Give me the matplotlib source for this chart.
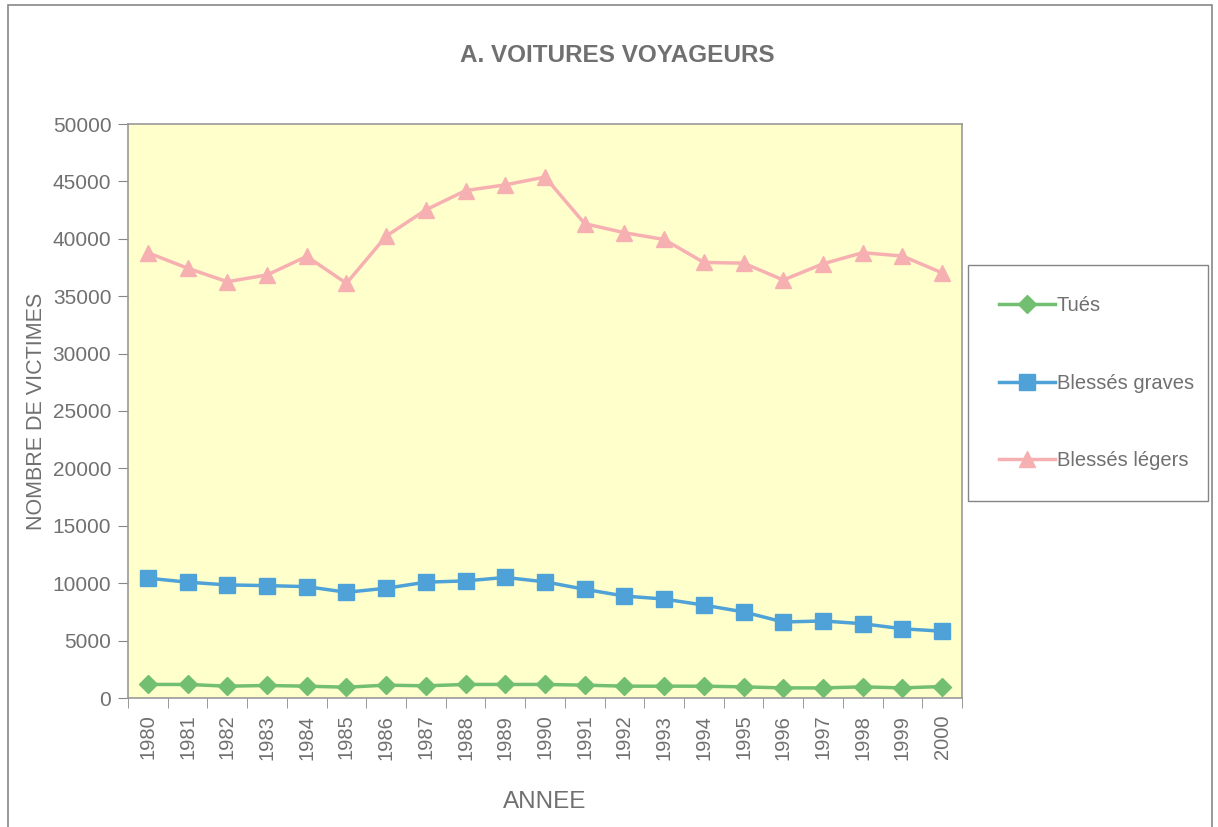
import numpy as np
import matplotlib.pyplot as plt
from matplotlib.patches import Rectangle

# --- donnees ---
annees = [str(a) for a in range(1980, 2001)]

tues = [1180, 1180, 1030, 1090, 1030, 940, 1120, 1060, 1180, 1180, 1180,
        1120, 1030, 1030, 1030, 970, 880, 880, 970, 880, 1000]

blesses_graves = [10440, 10090, 9850, 9790, 9700, 9210, 9560, 10090, 10200, 10500,
                  10120, 9470, 8880, 8620, 8090, 7500, 6620, 6710, 6470, 6030, 5820]

blesses_legers = [38790, 37440, 36260, 36850, 38470, 36120, 40230, 42520, 44200, 44700,
                  45380, 41320, 40530, 39940, 37940, 37880, 36410, 37820, 38790, 38500, 37030]

gris = '#707070'
plt.rcParams['font.family'] = ['Liberation Sans', 'DejaVu Sans']

W, H = 1218, 827
fig = plt.figure(figsize=(W / 100, H / 100), dpi=100)
ax = fig.add_axes([128 / W, 1 - 698 / H, (962 - 128) / W, (698 - 124) / H])
ax.set_facecolor('#ffffcc')

x = np.arange(len(annees))
ax.plot(x, tues, '-D', color='#72bf72', markersize=9, linewidth=2.5, label='Tués')
ax.plot(x, blesses_graves, '-s', color='#4ea2d8', markersize=11, linewidth=2.5,
        label='Blessés graves')
ax.plot(x, blesses_legers, '-^', color='#f7b0b2', markersize=12, linewidth=2.5,
        label='Blessés légers')

ax.set_xlim(-0.5, len(annees) - 0.5)
ax.set_ylim(0, 50000)
ax.set_yticks(np.arange(0, 50001, 5000))
ax.set_xticks(x)
ax.set_xticklabels(annees, rotation=90)
ax.set_xticks(np.arange(-0.5, len(annees), 1), minor=True)
ax.tick_params(axis='x', which='major', length=0, pad=12, labelsize=14.5, labelcolor=gris)
ax.tick_params(axis='x', which='minor', length=7, color='#888888', direction='out')
ax.tick_params(axis='y', length=7, color='#888888', labelsize=15, labelcolor=gris, pad=5)

for s in ax.spines.values():
    s.set_color('#999999')
    s.set_linewidth(1.2)

fig.text(617 / W, 1 - 55 / H, 'A. VOITURES VOYAGEURS', fontsize=17.5,
         fontweight='bold', color=gris, ha='center', va='center')
ax.set_xlabel('ANNEE', fontsize=17.5, color=gris, labelpad=23)
ax.set_ylabel('NOMBRE DE VICTIMES', fontsize=15.5, color=gris, labelpad=4)

leg = ax.legend(loc='upper left', bbox_to_anchor=(968 / W, 0, 240 / W, 1 - 265 / H),
                bbox_transform=fig.transFigure, mode='expand', frameon=True,
                fancybox=False, edgecolor='#666666', fontsize=14.5, labelspacing=2.9,
                borderpad=1.55, handlelength=2.75, handletextpad=0.1,
                borderaxespad=0)
for t in leg.get_texts():
    t.set_color(gris)
leg.get_frame().set_linewidth(1.0)

# cadre exterieur
fig.patches.append(Rectangle((8 / W, -0.01), 1204 / W, 1.01 - 5 / H,
                             transform=fig.transFigure, fill=False,
                             edgecolor='#888888', linewidth=1.2))

fig.savefig('out.png', dpi=100)
